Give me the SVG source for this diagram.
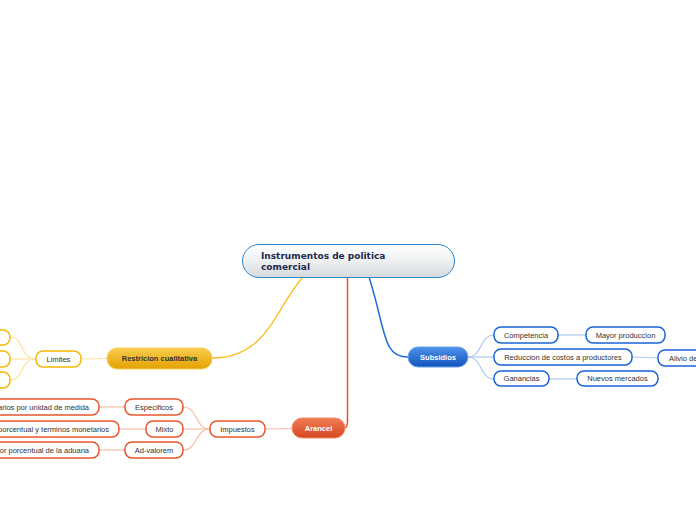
<svg xmlns="http://www.w3.org/2000/svg" width="696" height="520" viewBox="0 0 696 520">
<defs>
<linearGradient id="gC" x1="0" y1="0" x2="0" y2="1"><stop offset="0" stop-color="#ffffff"/><stop offset="0.5" stop-color="#eef0f1"/><stop offset="1" stop-color="#d5d9dc"/></linearGradient>
<linearGradient id="gY" x1="0" y1="0" x2="0" y2="1"><stop offset="0" stop-color="#f9cd4e"/><stop offset="1" stop-color="#e3a200"/></linearGradient>
<linearGradient id="gO" x1="0" y1="0" x2="0" y2="1"><stop offset="0" stop-color="#f27c56"/><stop offset="1" stop-color="#d4481f"/></linearGradient>
<linearGradient id="gB" x1="0" y1="0" x2="0" y2="1"><stop offset="0" stop-color="#4d92ea"/><stop offset="1" stop-color="#1454bc"/></linearGradient>
</defs>
<style>
text{font-family:"Liberation Sans",Arial,sans-serif;font-size:7.5px;fill:#333}
.t{font-family:"DejaVu Sans",Verdana,sans-serif;font-weight:bold;font-size:9px;fill:#1c2a4e}
.b{font-weight:bold}
.w{font-weight:bold;fill:#fff}
.cy{fill:#fff;stroke:#f6b800;stroke-width:1.5}
.co{fill:#fff;stroke:#e9552b;stroke-width:1.5}
.cb{fill:#fff;stroke:#1a64d6;stroke-width:1.5}
.ly{fill:none;stroke:#fde3a0;stroke-width:1.2}
.lo{fill:none;stroke:#f9bba5;stroke-width:1.2}
.lb{fill:none;stroke:#abc9f1;stroke-width:1.2}
</style>
<g id="connectors">
<path d="M303,277 C275,308 268,358 212,358" fill="none" stroke="#fbbb1c" stroke-width="1.3"/>
<path d="M347.5,277 L347.5,421 Q347.5,428 344,428" fill="none" stroke="#e9552b" stroke-width="1.5"/>
<path d="M369,277 C386,330 382,357 408,357" fill="none" stroke="#1f6fd8" stroke-width="1.5"/>
<path class="ly" d="M107,358.5 L81,359"/>
<path class="ly" d="M36,359 C20,359 24,337 10,337"/>
<path class="ly" d="M36,359 L10,359"/>
<path class="ly" d="M36,359 C20,359 24,380 10,380"/>
<path class="lo" d="M292,428.5 L265,429"/>
<path class="lo" d="M210,429 C195,429 198,407 183,407"/>
<path class="lo" d="M210,429 L183,429"/>
<path class="lo" d="M210,429 C195,429 198,450 183,450"/>
<path class="lo" d="M125,407 L99,407"/>
<path class="lo" d="M146,429 L119,429"/>
<path class="lo" d="M125,450 L99,450"/>
<path class="lb" d="M468,357 C482,357 480,335 494,335"/>
<path class="lb" d="M468,357 L494,357"/>
<path class="lb" d="M468,357 C482,357 480,379 494,379"/>
<path class="lb" d="M558,335 L586,335"/>
<path class="lb" d="M632,357 L658,358"/>
<path class="lb" d="M549,379 L577,379"/>
</g>
<g id="center">
<rect x="242.5" y="244.5" width="212" height="33" rx="16.5" fill="url(#gC)" stroke="#2f86c9" stroke-width="1"/>
<text class="t" x="261" y="259">Instrumentos de politica</text>
<text class="t" x="261" y="270">comercial</text>
</g>
<g id="restriccion">
<rect x="107" y="348" width="105" height="21" rx="10" fill="url(#gY)" stroke="#f7cf5c" stroke-width="1"/>
<text class="b" x="159.5" y="361" text-anchor="middle" fill="#222">Restricion cualitativa</text>
</g>
<g id="limites">
<rect class="cy" x="36" y="351" width="45" height="16" rx="7"/>
<text x="58.5" y="361.5" text-anchor="middle">Limites</text>
</g>
<g id="lim1"><rect class="cy" x="-40" y="330" width="50" height="15" rx="7"/></g>
<g id="lim2"><rect class="cy" x="-40" y="351" width="50" height="16" rx="7"/></g>
<g id="lim3"><rect class="cy" x="-40" y="372" width="50" height="16" rx="7"/></g>
<g id="arancel">
<rect x="292" y="418" width="53" height="20" rx="10" fill="url(#gO)" stroke="#f08b68" stroke-width="1"/>
<text class="w" x="318.5" y="431" text-anchor="middle">Arancel</text>
</g>
<g id="impuestos">
<rect class="co" x="210" y="421" width="55" height="16" rx="7"/>
<text x="237.5" y="431.5" text-anchor="middle">Impuestos</text>
</g>
<g id="especificos">
<rect class="co" x="125" y="399" width="58" height="16" rx="7"/>
<text x="154" y="409.5" text-anchor="middle">Especificos</text>
</g>
<g id="mixto">
<rect class="co" x="146" y="421" width="37" height="16" rx="7"/>
<text x="164.5" y="431.5" text-anchor="middle">Mixto</text>
</g>
<g id="advalorem">
<rect class="co" x="125" y="442" width="58" height="16" rx="7"/>
<text x="154" y="452.5" text-anchor="middle">Ad-valorem</text>
</g>
<g id="esp1">
<rect class="co" x="-60" y="399" width="159" height="16" rx="7"/>
<text x="89" y="409.5" text-anchor="end">arios por unidad de medida</text>
</g>
<g id="mix1">
<rect class="co" x="-60" y="421" width="179" height="16" rx="7"/>
<text x="109" y="431.5" text-anchor="end">porcentual y terminos monetarios</text>
</g>
<g id="adv1">
<rect class="co" x="-60" y="442" width="159" height="16" rx="7"/>
<text x="89" y="452.5" text-anchor="end">or porcentual de la aduana</text>
</g>
<g id="subsidios">
<rect x="408" y="347" width="60" height="20" rx="10" fill="url(#gB)" stroke="#6aa3ea" stroke-width="1"/>
<text class="w" x="438" y="360" text-anchor="middle">Subsidios</text>
</g>
<g id="competencia">
<rect class="cb" x="494" y="327" width="64" height="16" rx="7"/>
<text x="526" y="337.5" text-anchor="middle">Competencia</text>
</g>
<g id="reduccion">
<rect class="cb" x="494" y="349" width="138" height="16" rx="7"/>
<text x="563" y="359.5" text-anchor="middle">Reduccion de costos a productores</text>
</g>
<g id="ganancias">
<rect class="cb" x="494" y="371" width="55" height="15" rx="7"/>
<text x="521.5" y="381" text-anchor="middle">Ganancias</text>
</g>
<g id="mayor">
<rect class="cb" x="586" y="327" width="79" height="16" rx="7"/>
<text x="625.5" y="337.5" text-anchor="middle">Mayor produccion</text>
</g>
<g id="alivio">
<rect class="cb" x="658" y="350" width="80" height="16" rx="7"/>
<text x="669" y="360.5">Alivio de</text>
</g>
<g id="nuevos">
<rect class="cb" x="577" y="371" width="81" height="15" rx="7"/>
<text x="617.5" y="381" text-anchor="middle">Nuevos mercados</text>
</g>
</svg>
